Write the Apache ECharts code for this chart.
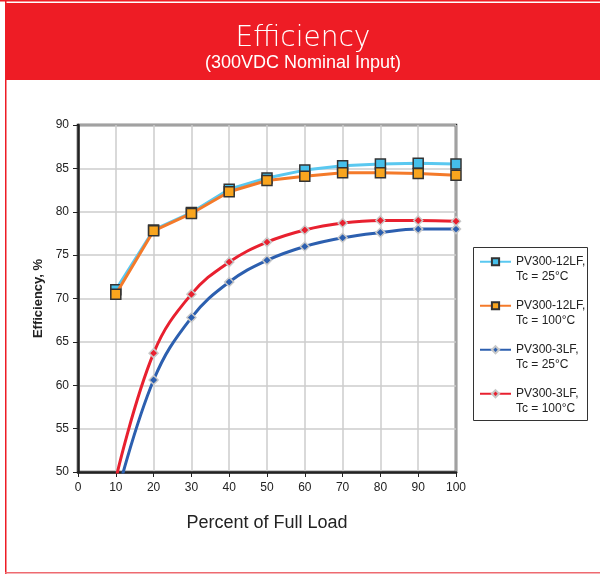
<!DOCTYPE html>
<html>
<head>
<meta charset="utf-8">
<style>html,body{margin:0;padding:0;background:#fff;}#c{width:600px;height:575px;}</style>
<script src="https://cdn.jsdelivr.net/npm/echarts@6/dist/echarts.min.js"></script>
</head>
<body>
<div id="c"></div>
<script>
var loads = [10, 20, 30, 40, 50, 60, 70, 80, 90, 100];
var pv12_25 = [71.0, 77.9, 79.9, 82.6, 83.9, 84.8, 85.3, 85.5, 85.6, 85.5];
var pv12_100 = [70.5, 77.8, 79.8, 82.3, 83.6, 84.1, 84.5, 84.5, 84.4, 84.2];
var pv3_25 = [46.8, 60.6, 67.8, 71.9, 74.4, 76.0, 77.0, 77.6, 78.0, 78.0];
var pv3_100 = [49.2, 63.7, 70.5, 74.2, 76.5, 77.9, 78.7, 79.0, 79.0, 78.9];
var names = ['PV300-12LF,\nTc = 25°C', 'PV300-12LF,\nTc = 100°C', 'PV300-3LF,\nTc = 25°C', 'PV300-3LF,\nTc = 100°C'];
var yTicks = [50, 55, 60, 65, 70, 75, 80, 85, 90];

function pairs(vals) { return loads.map(function (x, i) { return [x, vals[i]]; }); }

var chart = echarts.init(document.getElementById('c'));
chart.setOption({
  backgroundColor: '#fff',
  animation: false,
  graphic: [
    { type: 'rect', shape: { x: 0, y: 0, width: 600, height: 1.5 }, style: { fill: '#ee1c25' } },
    { type: 'rect', shape: { x: 5, y: 3, width: 595, height: 77 }, style: { fill: '#ee1c25' } },
    { type: 'rect', shape: { x: 5, y: 0, width: 1.5, height: 574 }, style: { fill: '#ee1c25' } },
    { type: 'rect', shape: { x: 5, y: 572, width: 595, height: 1.5 }, style: { fill: '#ee6a70' } },
    { type: 'rect', shape: { x: 473.5, y: 247.5, width: 114, height: 173 }, style: { fill: 'none', stroke: '#333', lineWidth: 1 } },
    { type: 'text', x: 303, y: 25, style: { text: 'Efficiency', fill: '#fff', font: '200 28px "DejaVu Sans", sans-serif', align: 'center' } },
    { type: 'text', x: 303, y: 54, style: { text: '(300VDC Nominal Input)', fill: '#fff', font: '18px "Liberation Sans", Arial, sans-serif', align: 'center' } }
  ],
  grid: { left: 78, top: 125, width: 378, height: 347, show: true, borderColor: '#222', borderWidth: 2.5, backgroundColor: 'transparent' },
  legend: {
    data: names,
    formatter: function (n) { return '\n' + n; },
    orient: 'vertical',
    left: 479, top: 240,
    padding: 0,
    itemWidth: 31, itemHeight: 9, itemGap: 0.5,
    textStyle: { fontFamily: '"Liberation Sans", Arial, sans-serif', fontSize: 12, color: '#222', lineHeight: 14.5 }
  },
  xAxis: {
    type: 'value', min: 0, max: 100, interval: 10,
    name: 'Percent of Full Load', nameLocation: 'middle', nameGap: 42,
    nameTextStyle: { fontFamily: '"Liberation Sans", Arial, sans-serif', fontSize: 18, color: '#222' },
    axisLine: { lineStyle: { color: '#222', width: 2.5 } },
    axisTick: { show: true, length: 5, lineStyle: { color: '#222', width: 1 } },
    axisLabel: { fontFamily: '"Liberation Sans", Arial, sans-serif', fontSize: 12, color: '#222', margin: 10 },
    splitLine: { show: true, lineStyle: { color: '#cccccc', width: 1.5 } }
  },
  yAxis: {
    type: 'value', min: yTicks[0], max: yTicks[yTicks.length - 1], interval: 5,
    name: 'Efficiency, %', nameLocation: 'middle', nameGap: 33,
    nameTextStyle: { fontFamily: '"Liberation Sans", Arial, sans-serif', fontSize: 13, fontWeight: 'bold', color: '#222' },
    axisLine: { show: true, lineStyle: { color: '#222', width: 2.5 } },
    axisTick: { show: true, length: 5, lineStyle: { color: '#222', width: 1 } },
    axisLabel: { fontFamily: '"Liberation Sans", Arial, sans-serif', fontSize: 12, color: '#222', margin: 9 },
    splitLine: { show: true, lineStyle: { color: '#cccccc', width: 1.5 } }
  },
  series: [
    { name: names[0], type: 'line', data: pairs(pv12_25), z: 3,
      lineStyle: { color: '#5ac8f0', width: 3 }, symbol: 'rect', symbolSize: 10,
      itemStyle: { color: '#45bfea', borderColor: '#333', borderWidth: 1.5 } },
    { name: names[1], type: 'line', data: pairs(pv12_100), z: 4,
      lineStyle: { color: '#f47a2a', width: 3 }, symbol: 'rect', symbolSize: 10,
      itemStyle: { color: '#f9a51e', borderColor: '#333', borderWidth: 1.5 } },
    { name: names[2], type: 'line', data: pairs(pv3_25), smooth: 0.4, z: 2,
      lineStyle: { color: '#2c5faf', width: 3 }, symbol: 'diamond', symbolSize: 9,
      itemStyle: { color: '#2c5faf', borderColor: '#c8c8c8', borderWidth: 1.5 } },
    { name: names[3], type: 'line', data: pairs(pv3_100), smooth: 0.4, z: 2,
      lineStyle: { color: '#e8202f', width: 3 }, symbol: 'diamond', symbolSize: 9,
      itemStyle: { color: '#e8202f', borderColor: '#c8c8c8', borderWidth: 1.5 } }
  ]
});
</script>
</body>
</html>
